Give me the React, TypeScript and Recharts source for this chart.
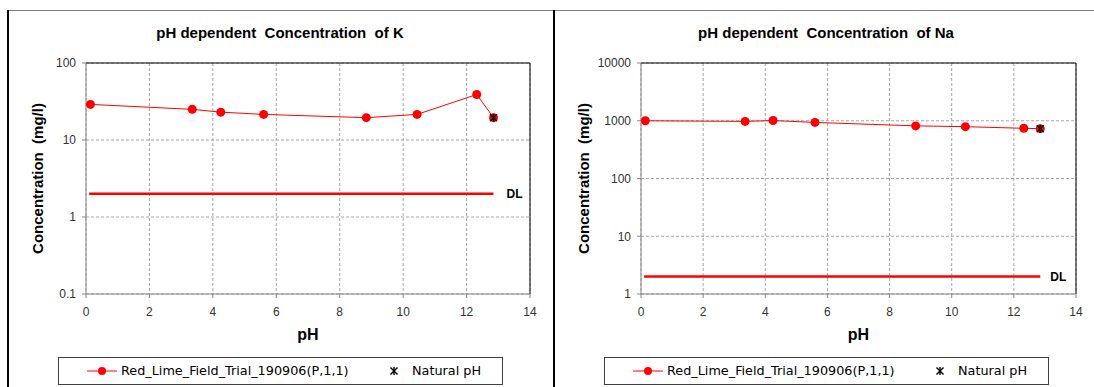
import {
  CartesianGrid,
  ComposedChart,
  LabelList,
  Line,
  ReferenceLine,
  Scatter,
  XAxis,
  YAxis,
} from "recharts";

// values (pH on x, mg/l on a log y axis)
const PH = [0.14, 3.35, 4.25, 5.6, 8.84, 10.44, 12.32, 12.85];
const K_CONC = [29, 25, 23, 21.5, 19.5, 21.5, 39, 19.5];
const NA_CONC = [1000, 975, 1010, 935, 815, 790, 740, 730];

const NATURAL_PH = 12.85;
const K_NATURAL = 19.5;
const NA_NATURAL = 730;

const DL_PH = [0.1, 12.85];
const DL_VALUE = 2;

const PH_TICKS = [0, 2, 4, 6, 8, 10, 12, 14];
const K_TICKS = [0.1, 1, 10, 100];
const NA_TICKS = [1, 10, 100, 1000, 10000];

const SERIES_NAME = "Red_Lime_Field_Trial_190906(P,1,1)";
const NATURAL_NAME = "Natural pH";

const RED = "#ff0000";
const AXIS_FONT = "'Liberation Sans', Arial, sans-serif";
const LEGEND_FONT = "'DejaVu Sans', Verdana, sans-serif";

type PanelProps = {
  left: number;
  width: number;
  title: string;
  conc: number[];
  natural: number;
  ticks: number[];
  plotLeft: number;
  yAxisWidth: number;
  marginRight: number;
  dlDx: number;
};

// Excel-style "star" marker: an X with a vertical bar through it
function StarMarker({ cx, cy }: { cx?: number; cy?: number }) {
  if (cx == null || cy == null) return null;
  const s = 3.5;
  return (
    <g stroke="#000" strokeWidth={1.4}>
      <line x1={cx - s} y1={cy - s} x2={cx + s} y2={cy + s} />
      <line x1={cx - s} y1={cy + s} x2={cx + s} y2={cy - s} />
      <line x1={cx} y1={cy - s - 0.5} x2={cx} y2={cy + s + 0.5} />
    </g>
  );
}

function Panel({ left, width, title, conc, natural, ticks, plotLeft, yAxisWidth, marginRight, dlDx }: PanelProps) {
  const series = PH.map((ph, i) => ({ ph, c: conc[i] }));
  const dl = DL_PH.map((ph) => ({ ph, c: DL_VALUE }));
  const nat = [{ ph: NATURAL_PH, c: natural }];
  const top = ticks[ticks.length - 1];

  return (
    <div style={{ position: "absolute", left, top: 0, width, height: 387 }}>
      <div
        style={{
          position: "absolute",
          left: 0,
          width: 560,
          top: 24,
          textAlign: "center",
          fontFamily: AXIS_FONT,
          fontWeight: "bold",
          fontSize: 15,
          whiteSpace: "pre",
          color: "#000",
        }}
      >
        {title}
      </div>
      <ComposedChart
        width={width}
        height={387}
        margin={{ top: 63, right: marginRight, left: plotLeft - yAxisWidth, bottom: 63 }}
      >
        <CartesianGrid stroke="#a6a6a6" strokeDasharray="3 2" />
        <XAxis
          type="number"
          dataKey="ph"
          domain={[0, 14]}
          ticks={PH_TICKS}
          allowDataOverflow
          height={30}
          tickSize={4}
          tickMargin={9}
          stroke="#868686"
          tick={{ fill: "#333", fontSize: 12, fontFamily: AXIS_FONT }}
          label={(p: any) => {
            const vb = p.viewBox;
            return (
              <text
                x={vb.x + vb.width / 2}
                y={vb.y + 40}
                dy="0.35em"
                textAnchor="middle"
                fontFamily={AXIS_FONT}
                fontWeight="bold"
                fontSize={16}
                fill="#000"
              >
                pH
              </text>
            );
          }}
        />
        <YAxis
          type="number"
          dataKey="c"
          scale="log"
          domain={[ticks[0], top]}
          ticks={ticks}
          allowDataOverflow
          width={yAxisWidth}
          tickSize={4}
          tickMargin={6}
          stroke="#868686"
          tickFormatter={(v: number) => String(v)}
          tick={{ fill: "#333", fontSize: 12, fontFamily: AXIS_FONT }}
          label={(p: any) => {
            const vb = p.viewBox;
            const cy = vb.y + vb.height / 2;
            return (
              <text
                x={38}
                y={cy}
                dy="0.35em"
                transform={`rotate(-90 38 ${cy})`}
                textAnchor="middle"
                fontFamily={AXIS_FONT}
                fontWeight="bold"
                fontSize={15}
                fill="#000"
                style={{ whiteSpace: "pre" }}
              >
                {"Concentration  (mg/l)"}
              </text>
            );
          }}
        />
        <ReferenceLine y={top} stroke="#000" strokeWidth={1} />
        <ReferenceLine x={14} stroke="#000" strokeWidth={1} />
        <Line
          data={dl}
          dataKey="c"
          stroke={RED}
          strokeWidth={2.5}
          dot={false}
          isAnimationActive={false}
        >
          <LabelList
            dataKey="c"
            content={(p: any) =>
              p.index === 1 ? (
                <text
                  x={p.x + dlDx}
                  y={p.y}
                  dy="0.35em"
                  textAnchor="middle"
                  fontFamily={AXIS_FONT}
                  fontWeight="bold"
                  fontSize={12}
                  fill="#000"
                >
                  DL
                </text>
              ) : null
            }
          />
        </Line>
        <Line
          data={series}
          dataKey="c"
          stroke={RED}
          strokeWidth={1}
          dot={{ r: 4.5, fill: RED, stroke: RED, strokeWidth: 0 }}
          isAnimationActive={false}
        />
        <Scatter data={nat} dataKey="c" shape={StarMarker} isAnimationActive={false} />
      </ComposedChart>
      <div
        style={{
          position: "absolute",
          left: 58,
          top: 357,
          width: 445,
          height: 28,
          border: "1px solid #404040",
          boxSizing: "border-box",
          fontFamily: LEGEND_FONT,
          fontSize: 12.8,
          color: "#000",
        }}
      >
        <svg style={{ position: "absolute", left: 27, top: 7 }} width={32} height={12}>
          <line x1={1} y1={6} x2={31} y2={6} stroke={RED} strokeWidth={1} />
          <circle cx={16} cy={6} r={4} fill={RED} />
        </svg>
        <span style={{ position: "absolute", left: 62, top: 5, whiteSpace: "pre" }}>{SERIES_NAME}</span>
        <svg style={{ position: "absolute", left: 329, top: 7 }} width={12} height={12}>
          <StarMarker cx={6} cy={6} />
        </svg>
        <span style={{ position: "absolute", left: 353, top: 5, whiteSpace: "pre" }}>{NATURAL_NAME}</span>
      </div>
    </div>
  );
}

export default function App() {
  return (
    <div
      style={{
        position: "fixed",
        left: 0,
        top: 0,
        width: 1094,
        height: 387,
        overflow: "hidden",
        background: "#fff",
      }}
    >
      {/* frames */}
      <div style={{ position: "absolute", left: 8, top: 10, width: 1086, height: 1, background: "#7f7f7f" }} />
      <div style={{ position: "absolute", left: 7, top: 10, width: 2, height: 377, background: "#000" }} />
      <div style={{ position: "absolute", left: 553, top: 10, width: 2, height: 377, background: "#000" }} />

      <Panel
        left={0}
        width={546}
        title="pH dependent  Concentration  of K"
        conc={K_CONC}
        natural={K_NATURAL}
        ticks={K_TICKS}
        plotLeft={86}
        yAxisWidth={40}
        marginRight={16}
        dlDx={21}
      />
      <Panel
        left={546}
        width={548}
        title="pH dependent  Concentration  of Na"
        conc={NA_CONC}
        natural={NA_NATURAL}
        ticks={NA_TICKS}
        plotLeft={95}
        yAxisWidth={45}
        marginRight={18}
        dlDx={18}
      />
    </div>
  );
}
